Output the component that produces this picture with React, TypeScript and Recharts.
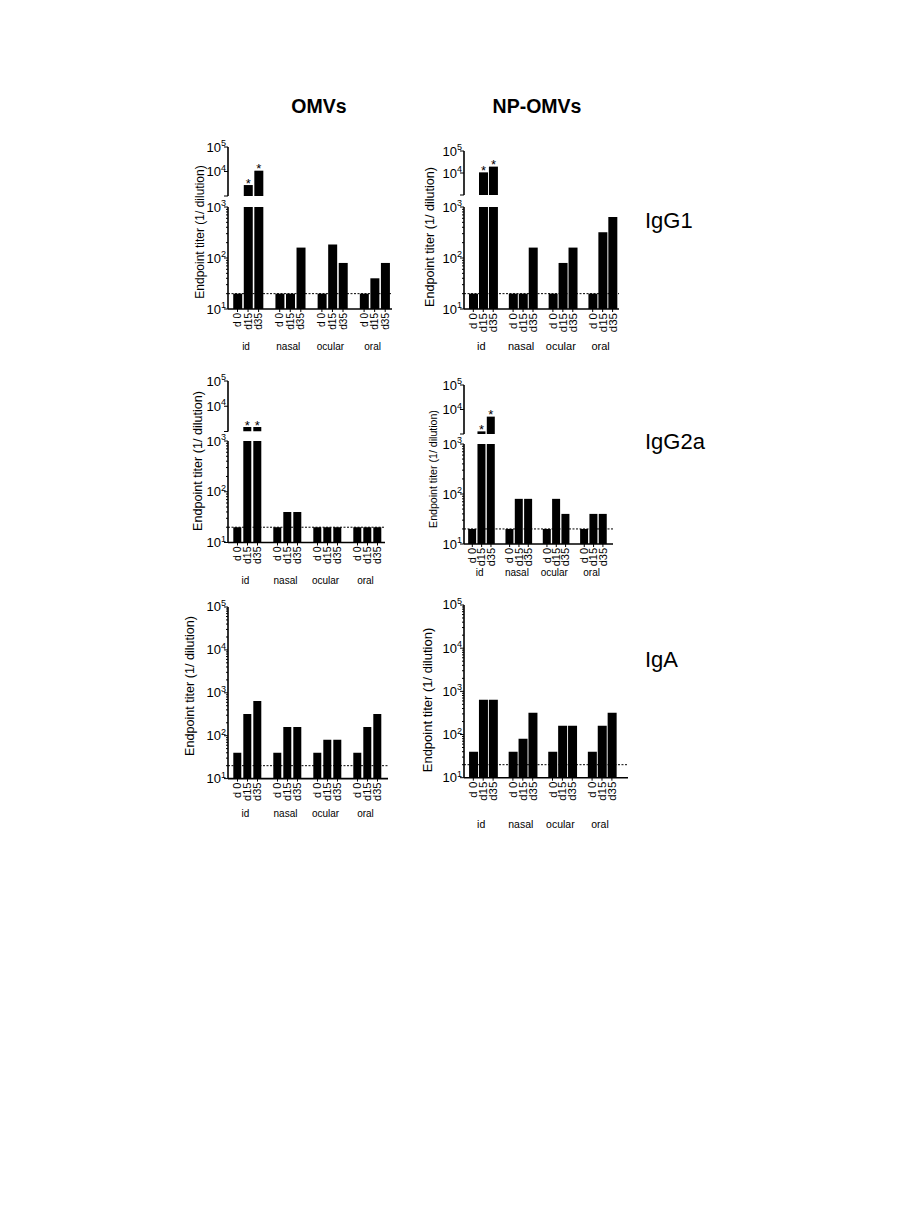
import React from 'react';
import { BarChart, Bar, XAxis, YAxis, ReferenceLine, LabelList } from 'recharts';

const FONT = '"Liberation Sans", Arial, sans-serif';

const COLUMN_TITLES = ['OMVs', 'NP-OMVs'];
const ROW_LABELS = ['IgG1', 'IgG2a', 'IgA'];
const GROUPS = ['id', 'nasal', 'ocular', 'oral'];
const DAYS = ['d 0', 'd15', 'd35'];
const Y_TITLE = 'Endpoint titer (1/ dilution)';

// endpoint titers, order: id d0/d15/d35, nasal, ocular, oral
const OMV_IGG1 = [20, 2800, 10800, 20, 20, 160, 20, 184, 80, 20, 40, 80];
const NP_IGG1 = [20, 10700, 19500, 20, 20, 160, 20, 80, 160, 20, 320, 640];
const OMV_IGG2A = [20, 1500, 1500, 20, 40, 40, 20, 20, 20, 20, 20, 20];
const NP_IGG2A = [20, 1280, 5120, 20, 80, 80, 20, 80, 40, 20, 40, 40];
const OMV_IGA = [40, 320, 640, 40, 160, 160, 40, 80, 80, 40, 160, 320];
const NP_IGA = [40, 640, 640, 40, 80, 320, 40, 160, 160, 40, 160, 320];

// significance stars
const SIG_ID = [false, true, true, false, false, false, false, false, false, false, false, false];
const SIG_NONE = [false, false, false, false, false, false, false, false, false, false, false, false];

const CUTOFF = 20;
const BREAK = 1000;

const logTicks = (lo: number, hi: number) => {
  const out: number[] = [];
  for (let e = lo; e < hi; e++) {
    for (let m = 1; m < 10; m++) out.push(m * Math.pow(10, e));
  }
  out.push(Math.pow(10, hi));
  return out;
};

const buildRows = (vals: number[], sig: boolean[]) => {
  const rows: any[] = [];
  GROUPS.forEach((g, gi) => {
    DAYS.forEach((d, di) => {
      const v = vals[gi * 3 + di];
      rows.push({
        key: `${g}|${d}`,
        v,
        up: v > BREAK ? v : null,
        star: sig[gi * 3 + di] ? '*' : null,
      });
    });
    if (gi < GROUPS.length - 1) rows.push({ key: `gap${gi}`, v: null, up: null, star: null });
  });
  return rows;
};

const PANELS = [
  { values: OMV_IGG1, sig: SIG_ID, axisX: 228, band: 10.55, first: 237.5, xEnd: 392, gap: 1,
    upper: [147, 196], lower: [207, 309], yt: [200, 232, 12], groupDy: 41, dayFs: 10, grpFs: 10 },
  { values: NP_IGG1, sig: SIG_ID, axisX: 464, band: 9.95, first: 473.3, xEnd: 619, gap: 0.7,
    upper: [151, 195], lower: [207, 309], yt: [430, 237, 12.6], groupDy: 41, dayFs: 11.5, grpFs: 11 },
  { values: OMV_IGG2A, sig: SIG_ID, axisX: 228, band: 10, first: 237.5, xEnd: 385, gap: 0.8,
    upper: [381, 431.5], lower: [441, 542.5], yt: [198, 461, 12.6], groupDy: 41, dayFs: 10.5, grpFs: 10 },
  { values: NP_IGG2A, sig: SIG_ID, axisX: 464, band: 9.33, first: 472.3, xEnd: 613, gap: 0.5,
    upper: [385, 434], lower: [444, 544], yt: [433, 469, 10.6], groupDy: 31.5, dayFs: 11, grpFs: 10 },
  { values: OMV_IGA, sig: SIG_NONE, axisX: 228, band: 10, first: 237.5, xEnd: 388, gap: 0.8,
    upper: null, lower: [606.7, 778.3], yt: [190, 686, 12.6], groupDy: 38, dayFs: 11, grpFs: 10 },
  { values: NP_IGA, sig: SIG_NONE, axisX: 464, band: 9.9, first: 473.3, xEnd: 628, gap: 0.7,
    upper: null, lower: [605, 777.7], yt: [427, 700, 13], groupDy: 50, dayFs: 11.5, grpFs: 10.5 },
];

const isMajor = (v: number) => Math.abs(Math.log10(v) - Math.round(Math.log10(v))) < 1e-6;

const YTick = (props: any) => {
  const { x, y, payload, noLabel } = props;
  const v = payload.value;
  const major = isMajor(v);
  return (
    <g>
      <line x1={x - (major ? 4 : 2)} x2={x} y1={y} y2={y} stroke="#000" strokeWidth={1} />
      {major && !noLabel && (
        <text x={x - 2} y={y} dy={4.5} textAnchor="end" fontSize={13} fontFamily={FONT} fill="#000">
          10<tspan dy={-5.5} fontSize={9}>{Math.round(Math.log10(v))}</tspan>
        </text>
      )}
    </g>
  );
};

const XTick = (props: any) => {
  const { x, y, payload, groupDy, dayFs, grpFs } = props;
  const key = String(payload.value);
  if (key.startsWith('gap')) return <g />;
  const [g, d] = key.split('|');
  return (
    <g>
      <line x1={x} x2={x} y1={y} y2={y + 3} stroke="#000" strokeWidth={1} />
      <text transform={`translate(${x},${y + 4}) rotate(-90)`} textAnchor="end" dy="0.35em"
        fontSize={dayFs} fontFamily={FONT} fill="#000">{d}</text>
      {d === DAYS[1] && (
        <text x={x - 2} y={y + groupDy} textAnchor="middle" fontSize={grpFs} fontFamily={FONT} fill="#000">{g}</text>
      )}
    </g>
  );
};

const YW = 40;
const MT = 12;
const XH = 60;

const Segment = ({ p, rows, top, bottom, domain, ticks, noLabel, showX, dataKey }: any) => {
  const plotW = p.xEnd - p.axisX;
  const padL = p.first - p.axisX - p.band / 2;
  const padR = Math.max(0, plotW - padL - rows.length * p.band);
  const plotH = bottom - top;
  const width = YW + plotW + 4;
  const height = MT + plotH + (showX ? XH : 0) + 2;
  return (
    <div style={{ position: 'absolute', left: p.axisX - YW, top: top - MT }}>
      <BarChart width={width} height={height} data={rows} barCategoryGap={p.gap}
        margin={{ top: MT, right: 4, bottom: 2, left: 0 }}>
        <XAxis dataKey="key" type="category" hide={!showX} height={XH} interval={0} tickSize={0} tickMargin={0}
          tickLine={false} axisLine={{ stroke: '#000', strokeWidth: 1.6 }} padding={{ left: padL, right: padR }}
          tick={(t: any) => <XTick {...t} groupDy={p.groupDy} dayFs={p.dayFs} grpFs={p.grpFs} />} />
        <YAxis type="number" scale="log" domain={domain} allowDataOverflow ticks={ticks} interval={0}
          width={YW} tickSize={0} tickMargin={0} tickLine={false}
          axisLine={{ stroke: '#000', strokeWidth: 1.6 }}
          tick={(t: any) => <YTick {...t} noLabel={noLabel && t.payload.value === noLabel} />} />
        {showX && <ReferenceLine y={CUTOFF} stroke="#000" strokeWidth={1} strokeDasharray="2 1.5" />}
        <Bar dataKey={dataKey} fill="#000" isAnimationActive={false}>
          <LabelList dataKey="star" content={(l: any) => l.value ? (
            <text x={l.x + l.width / 2} y={l.y + 2.5} textAnchor="middle" fontSize={13} fontFamily={FONT} fill="#000">{l.value}</text>
          ) : null} />
        </Bar>
      </BarChart>
    </div>
  );
};

const Panel = ({ p }: any) => {
  const rows = buildRows(p.values, p.sig);
  if (p.upper) {
    return (
      <>
        <Segment p={p} rows={rows} top={p.upper[0]} bottom={p.upper[1]} domain={[BREAK, 100000]}
          ticks={[BREAK, 10000, 100000]} noLabel={BREAK} showX={false} dataKey="up" />
        <Segment p={p} rows={rows.map((r: any) => ({ ...r, star: null }))} top={p.lower[0]} bottom={p.lower[1]}
          domain={[10, BREAK]} ticks={logTicks(1, 3)} showX dataKey="v" />
      </>
    );
  }
  return (
    <Segment p={p} rows={rows} top={p.lower[0]} bottom={p.lower[1]} domain={[10, 100000]}
      ticks={logTicks(1, 5)} showX dataKey="v" />
  );
};

export default function App() {
  return (
    <div style={{ position: 'absolute', left: 0, top: 0, width: 918, height: 1216, background: '#fff', fontFamily: FONT }}>
      <svg width={918} height={1216} style={{ position: 'absolute', left: 0, top: 0 }}>
        <text x={319} y={113} textAnchor="middle" fontWeight="bold" fontSize={19.5} fontFamily={FONT}>{COLUMN_TITLES[0]}</text>
        <text x={537} y={113} textAnchor="middle" fontWeight="bold" fontSize={19.5} fontFamily={FONT}>{COLUMN_TITLES[1]}</text>
        <text x={645} y={228} fontSize={22} fontFamily={FONT}>{ROW_LABELS[0]}</text>
        <text x={645} y={449} fontSize={22} fontFamily={FONT}>{ROW_LABELS[1]}</text>
        <text x={645} y={667} fontSize={22} fontFamily={FONT}>{ROW_LABELS[2]}</text>
        {PANELS.map((p, i) => (
          <text key={i} transform={`translate(${p.yt[0]},${p.yt[1]}) rotate(-90)`} textAnchor="middle" dy="0.35em"
            fontSize={p.yt[2]} fontFamily={FONT}>{Y_TITLE}</text>
        ))}
      </svg>
      {PANELS.map((p, i) => <Panel key={i} p={p} />)}
    </div>
  );
}
